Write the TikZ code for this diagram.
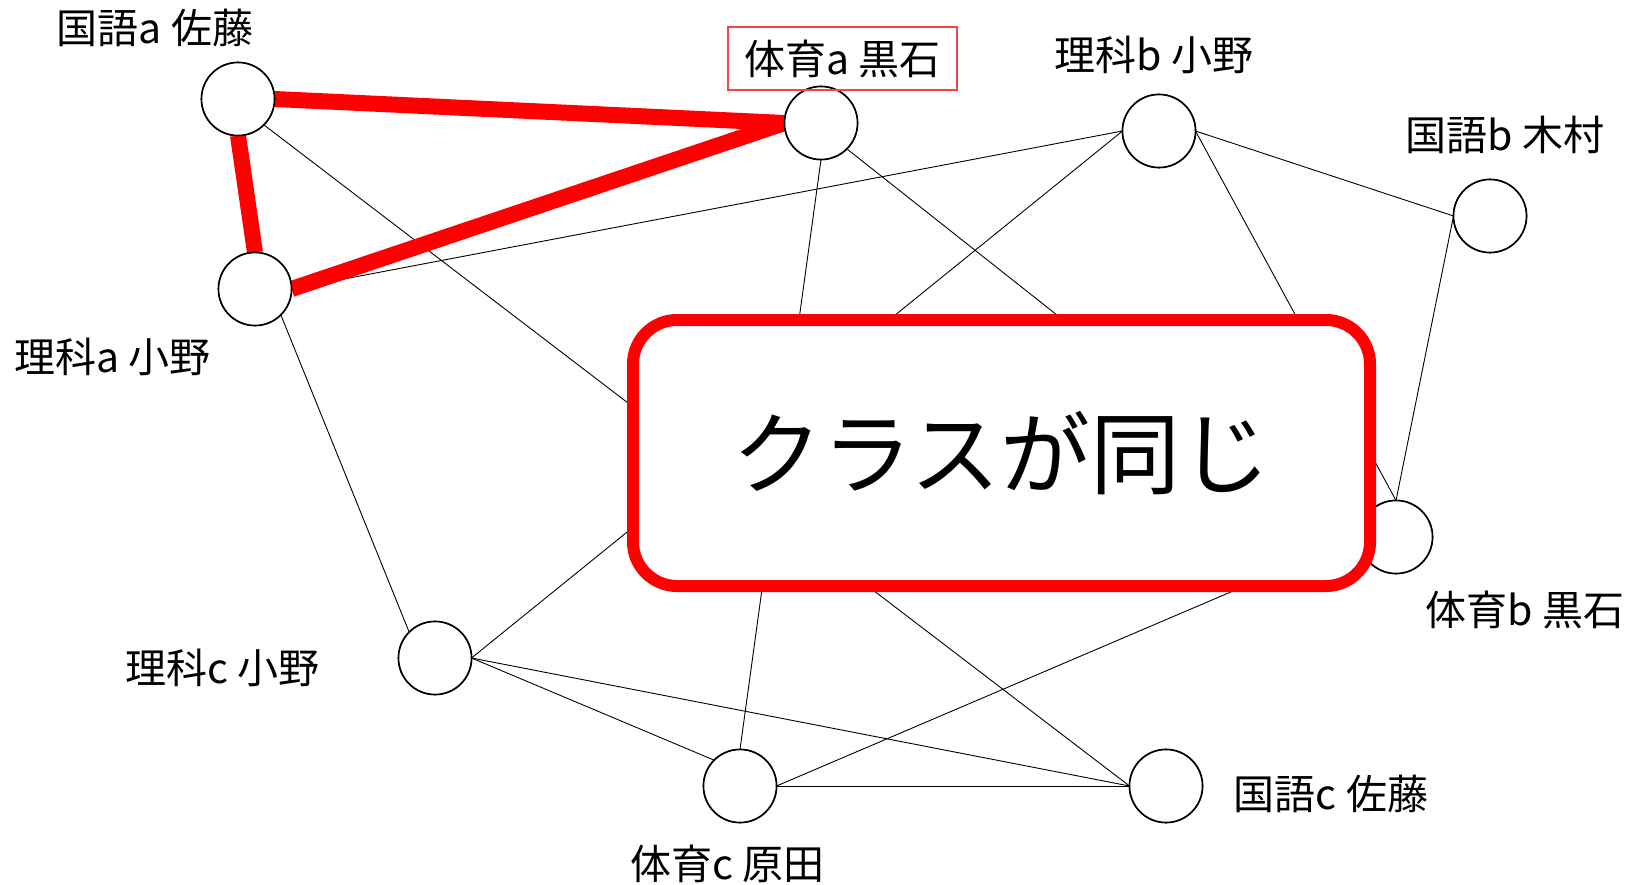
\documentclass[tikz,border=0pt]{standalone}
\usepackage{fontspec}
\setmainfont{Noto Sans CJK JP}
\definecolor{lblred}{RGB}{240,70,70}
\begin{document}
\begin{tikzpicture}[x=1pt,y=-1pt,
  vtx/.style={circle, draw=black, line width=1.6pt, fill=white, minimum size=73pt, inner sep=0pt, outer sep=0pt},
  thinedge/.style={draw=black, line width=0.9pt},
  rededge/.style={draw=red, line width=16pt},
  lbl/.style={font=\fontsize{41}{43}\selectfont, inner sep=0pt},
  bigbox/.style={draw=red, line width=12pt, fill=white, rounded corners=44pt, minimum width=737pt, minimum height=266pt, inner sep=0pt, font=\fontsize{90}{92}\selectfont},
  lblbox/.style={draw=lblred, line width=1.5pt, minimum width=229pt, minimum height=63pt, inner sep=0pt, font=\fontsize{41}{43}\selectfont}
]
\useasboundingbox (0,0) rectangle (1630,885);
\fill[white] (0,0) rectangle (1630,885);

% vertices
\node[vtx] (A) at (238,99) {};
\node[vtx] (B) at (821,123) {};
\node[vtx] (C) at (1159,131) {};
\node[vtx] (D) at (1490,216) {};
\node[vtx] (E) at (255,289) {};
\node[vtx] (F) at (1396,537) {};
\node[vtx] (G) at (435,658) {};
\node[vtx] (H) at (740,786) {};
\node[vtx] (I) at (1166,786) {};

% thin edges
\draw[thinedge] (A.south east) -- (I.west);
\draw[thinedge] (B.south) -- (H.north);
\draw[thinedge] (B.south east) -- (F.south west);
\draw[thinedge] (E.east) -- (C.west);
\draw[thinedge] (C.east) -- (D.west);
\draw[thinedge] (C.west) -- (G.east);
\draw[thinedge] (C.east) -- (F.north);
\draw[thinedge] (D.west) -- (F.north);
\draw[thinedge] (E.south east) -- (G.north west);
\draw[thinedge] (G.east) -- (H.north west);
\draw[thinedge] (G.east) -- (I.west);
\draw[thinedge] (H.east) -- (I.west);
\draw[thinedge] (H.east) -- (F.west);

% red edges
\draw[rededge] (A.east) -- (B.west);
\draw[rededge] (A.south) -- (E.north);
\draw[rededge] (E.east) -- (B.west);

% circles on top of edges
\foreach \n in {A,B,C,D,E,F,G,H,I} {
  \node[vtx] at (\n) {};
}

% big box
\node[bigbox] (box) at (1001.5,453) {クラスが同じ};

% labels
\node[lbl] (lA) at (155,27.5) {国語a 佐藤};
\node[lblbox] (lB) at (842.5,58.5) {体育a 黒石};
\node[lbl] (lC) at (1154,54.5) {理科b 小野};
\node[lbl] (lD) at (1505,135) {国語b 木村};
\node[lbl] (lE) at (112.5,356.5) {理科a 小野};
\node[lbl] (lF) at (1525,610) {体育b 黒石};
\node[lbl] (lG) at (222.5,668) {理科c 小野};
\node[lbl] (lH) at (727.5,864) {体育c 原田};
\node[lbl] (lI) at (1331,793.5) {国語c 佐藤};
\end{tikzpicture}
\end{document}
